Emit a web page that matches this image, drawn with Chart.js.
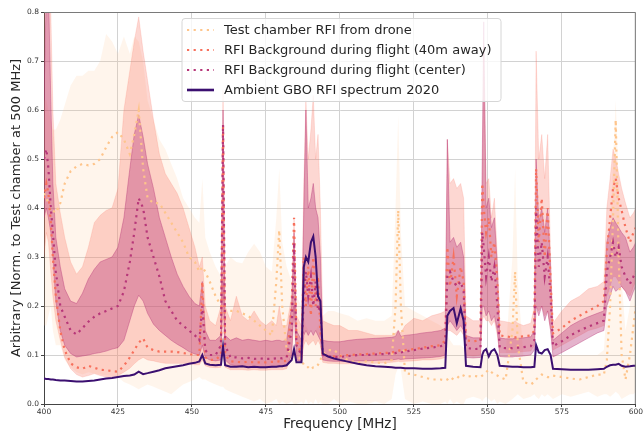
<!DOCTYPE html>
<html lang="en">
<head>
    <meta charset="UTF-8">
    <title>RFI spectra</title>
    <script src="https://cdn.jsdelivr.net/npm/chart.js"></script>
    <style>
        html, body { margin: 0; padding: 0; background: #fff; }
        #wrap { width: 644px; height: 433px; }
    </style>
</head>
<body>
    <div id="wrap">
        <canvas id="spectrum" width="644" height="433"></canvas>
    </div>

    <script>
        // frequency grid (MHz), shared by every series below
        const freq = [
            400, 400.8, 401.5, 402.3, 403, 404, 405.5, 407, 409, 411,
            413, 415, 417, 419, 421, 423, 425, 427, 429, 430.5,
            432, 433.5, 435, 437, 439, 441, 443, 445, 447, 449,
            451, 452.5, 453.5, 454.5, 456, 458, 459.8, 460.5, 461.2, 463,
            465, 467, 469, 471, 473, 475, 477, 478.5, 479.5, 480.5,
            482, 483.7, 484.5, 485.3, 487, 487.8, 488.5, 489.3, 490.2, 491,
            491.8, 492.6, 493.4, 494.2, 496, 498, 500, 503, 506, 509,
            512, 515, 517.5, 518.8, 519.7, 520.6, 522, 525, 528, 531,
            534, 535.6, 536.3, 537.2, 538.4, 539.5, 540.8, 541.8, 542.6, 545,
            547.5, 548.1, 548.6, 549.4, 550.3, 551.2, 552.2, 553.2, 554, 556,
            558.3, 559.2, 560.1, 562, 564.5, 565.7, 566.3, 567.2, 568.2, 569.2,
            570.2, 571.2, 572, 575, 578, 581, 584, 587, 589.2, 590.2,
            591.3, 592.3, 593.2, 594.2, 595.2, 596.5, 598, 599.2, 600
        ];

        // Ambient GBO RFI spectrum 2020
        const gbo = [
            0.052, 0.051, 0.051, 0.050, 0.050, 0.049, 0.048, 0.048, 0.047, 0.046,
            0.046, 0.047, 0.048, 0.050, 0.052, 0.053, 0.055, 0.057, 0.058, 0.060,
            0.066, 0.061, 0.063, 0.066, 0.069, 0.073, 0.075, 0.077, 0.079, 0.082,
            0.084, 0.087, 0.100, 0.083, 0.080, 0.079, 0.080, 0.118, 0.079, 0.076,
            0.076, 0.077, 0.075, 0.076, 0.075, 0.075, 0.076, 0.076, 0.077, 0.077,
            0.079, 0.090, 0.112, 0.085, 0.085, 0.280, 0.300, 0.290, 0.330, 0.342,
            0.300, 0.220, 0.210, 0.103, 0.097, 0.093, 0.090, 0.086, 0.082, 0.079,
            0.077, 0.076, 0.075, 0.074, 0.074, 0.074, 0.073, 0.073, 0.072, 0.072,
            0.073, 0.074, 0.180, 0.190, 0.196, 0.165, 0.195, 0.170, 0.078, 0.076,
            0.075, 0.100, 0.108, 0.112, 0.097, 0.108, 0.112, 0.100, 0.078, 0.077,
            0.076, 0.076, 0.076, 0.075, 0.075, 0.076, 0.120, 0.105, 0.103, 0.110,
            0.112, 0.100, 0.072, 0.071, 0.070, 0.070, 0.070, 0.071, 0.072, 0.076,
            0.079, 0.080, 0.080, 0.082, 0.078, 0.076, 0.077, 0.078, 0.078
        ];

        // RFI background during flight (center): median and spread
        const center = [
            0.50, 0.52, 0.48, 0.40, 0.35, 0.27, 0.20, 0.178, 0.15, 0.142,
            0.155, 0.168, 0.178, 0.185, 0.19, 0.195, 0.20, 0.23, 0.29, 0.35,
            0.42, 0.40, 0.34, 0.30, 0.26, 0.21, 0.19, 0.17, 0.16, 0.15,
            0.14, 0.13, 0.20, 0.11, 0.10, 0.10, 0.12, 0.57, 0.12, 0.095,
            0.095, 0.093, 0.094, 0.092, 0.093, 0.092, 0.092, 0.093, 0.094, 0.093,
            0.095, 0.15, 0.33, 0.12, 0.10, 0.22, 0.27, 0.22, 0.26, 0.20,
            0.25, 0.19, 0.20, 0.10, 0.097, 0.096, 0.096, 0.098, 0.10, 0.10,
            0.101, 0.102, 0.104, 0.104, 0.106, 0.105, 0.107, 0.11, 0.113, 0.115,
            0.118, 0.12, 0.26, 0.27, 0.25, 0.24, 0.25, 0.23, 0.115, 0.112,
            0.113, 0.35, 0.32, 0.26, 0.30, 0.25, 0.28, 0.20, 0.115, 0.114,
            0.114, 0.115, 0.115, 0.116, 0.118, 0.13, 0.40, 0.28, 0.33, 0.26,
            0.30, 0.22, 0.118, 0.128, 0.14, 0.15, 0.158, 0.165, 0.17, 0.27,
            0.30, 0.33, 0.30, 0.32, 0.28, 0.26, 0.245, 0.26, 0.27
        ];
        const centerHigh = [
            0.62, 0.85, 0.85, 0.62, 0.45, 0.34, 0.28, 0.235, 0.21, 0.205,
            0.226, 0.255, 0.275, 0.29, 0.295, 0.30, 0.32, 0.38, 0.48, 0.55,
            0.59, 0.545, 0.49, 0.44, 0.38, 0.34, 0.30, 0.265, 0.24, 0.22,
            0.205, 0.20, 0.25, 0.15, 0.13, 0.13, 0.14, 0.60, 0.14, 0.13,
            0.135, 0.13, 0.132, 0.13, 0.128, 0.13, 0.128, 0.13, 0.13, 0.128,
            0.13, 0.20, 0.35, 0.15, 0.13, 0.40, 0.60, 0.40, 0.42, 0.45,
            0.40, 0.38, 0.30, 0.13, 0.128, 0.127, 0.127, 0.13, 0.132, 0.133,
            0.134, 0.135, 0.136, 0.138, 0.15, 0.138, 0.14, 0.142, 0.145, 0.147,
            0.15, 0.155, 0.54, 0.33, 0.34, 0.32, 0.33, 0.30, 0.14, 0.135,
            0.135, 0.50, 0.78, 0.40, 0.42, 0.36, 0.38, 0.28, 0.135, 0.133,
            0.133, 0.134, 0.134, 0.135, 0.137, 0.15, 0.50, 0.37, 0.40, 0.35,
            0.40, 0.28, 0.13, 0.145, 0.16, 0.17, 0.178, 0.185, 0.19, 0.33,
            0.36, 0.38, 0.37, 0.36, 0.35, 0.34, 0.31, 0.32, 0.33
        ];
        const centerLow = [
            0.38, 0.40, 0.38, 0.35, 0.30, 0.21, 0.15, 0.12, 0.103, 0.096,
            0.098, 0.10, 0.103, 0.105, 0.108, 0.112, 0.115, 0.13, 0.17, 0.20,
            0.222, 0.21, 0.185, 0.163, 0.15, 0.14, 0.13, 0.122, 0.115, 0.107,
            0.102, 0.10, 0.12, 0.095, 0.09, 0.088, 0.09, 0.25, 0.09, 0.08,
            0.078, 0.077, 0.076, 0.075, 0.076, 0.075, 0.075, 0.076, 0.076, 0.077,
            0.078, 0.10, 0.20, 0.09, 0.087, 0.14, 0.15, 0.14, 0.15, 0.14,
            0.15, 0.14, 0.13, 0.09, 0.088, 0.087, 0.087, 0.087, 0.088, 0.088,
            0.089, 0.09, 0.09, 0.091, 0.092, 0.091, 0.092, 0.093, 0.094, 0.095,
            0.097, 0.10, 0.16, 0.17, 0.16, 0.15, 0.16, 0.15, 0.095, 0.094,
            0.095, 0.20, 0.20, 0.18, 0.19, 0.17, 0.18, 0.15, 0.097, 0.096,
            0.096, 0.097, 0.097, 0.098, 0.10, 0.11, 0.20, 0.18, 0.20, 0.17,
            0.19, 0.15, 0.096, 0.105, 0.115, 0.125, 0.135, 0.145, 0.15, 0.20,
            0.22, 0.24, 0.23, 0.235, 0.24, 0.23, 0.21, 0.23, 0.24
        ];

        // RFI background during flight (40m away): median and spread
        const away = [
            0.42, 0.45, 0.43, 0.37, 0.30, 0.22, 0.15, 0.11, 0.083, 0.075,
            0.072, 0.078, 0.074, 0.07, 0.069, 0.067, 0.066, 0.078, 0.095, 0.11,
            0.125, 0.134, 0.115, 0.11, 0.107, 0.107, 0.107, 0.106, 0.104, 0.102,
            0.10, 0.10, 0.25, 0.095, 0.09, 0.09, 0.10, 0.57, 0.10, 0.087,
            0.086, 0.085, 0.086, 0.085, 0.085, 0.085, 0.086, 0.086, 0.087, 0.087,
            0.088, 0.20, 0.38, 0.13, 0.10, 0.30, 0.20, 0.28, 0.18, 0.30,
            0.20, 0.26, 0.15, 0.10, 0.098, 0.097, 0.098, 0.10, 0.101, 0.102,
            0.103, 0.104, 0.105, 0.107, 0.11, 0.108, 0.11, 0.112, 0.115, 0.118,
            0.12, 0.13, 0.32, 0.24, 0.30, 0.22, 0.28, 0.25, 0.13, 0.128,
            0.13, 0.45, 0.40, 0.35, 0.38, 0.30, 0.33, 0.25, 0.14, 0.138,
            0.136, 0.136, 0.137, 0.138, 0.14, 0.15, 0.48, 0.33, 0.42, 0.30,
            0.40, 0.25, 0.144, 0.155, 0.17, 0.18, 0.19, 0.20, 0.21, 0.31,
            0.38, 0.44, 0.46, 0.42, 0.395, 0.36, 0.33, 0.35, 0.36
        ];
        const awayHigh = [
            0.82, 0.85, 0.85, 0.80, 0.60, 0.45, 0.39, 0.34, 0.29, 0.265,
            0.28, 0.32, 0.37, 0.385, 0.395, 0.40, 0.44, 0.60, 0.68, 0.74,
            0.79, 0.72, 0.66, 0.58, 0.51, 0.47, 0.45, 0.43, 0.40, 0.36,
            0.32, 0.28, 0.30, 0.20, 0.17, 0.16, 0.20, 0.64, 0.20, 0.17,
            0.22, 0.18, 0.17, 0.19, 0.17, 0.16, 0.17, 0.16, 0.20, 0.16,
            0.16, 0.22, 0.38, 0.18, 0.16, 0.45, 0.62, 0.50, 0.56, 0.63,
            0.50, 0.55, 0.40, 0.17, 0.165, 0.16, 0.16, 0.15, 0.15, 0.145,
            0.14, 0.14, 0.14, 0.145, 0.15, 0.145, 0.16, 0.175, 0.17, 0.18,
            0.185, 0.19, 0.54, 0.45, 0.46, 0.44, 0.45, 0.42, 0.18, 0.17,
            0.17, 0.45, 0.73, 0.45, 0.46, 0.38, 0.42, 0.30, 0.17, 0.168,
            0.165, 0.17, 0.165, 0.16, 0.165, 0.20, 0.72, 0.50, 0.55, 0.46,
            0.55, 0.30, 0.165, 0.19, 0.21, 0.22, 0.235, 0.24, 0.25, 0.40,
            0.46, 0.52, 0.50, 0.47, 0.44, 0.41, 0.38, 0.39, 0.40
        ];
        const awayLow = [
            0.30, 0.35, 0.33, 0.27, 0.22, 0.17, 0.13, 0.095, 0.072, 0.06,
            0.055, 0.058, 0.062, 0.058, 0.055, 0.055, 0.058, 0.065, 0.073, 0.082,
            0.09, 0.095, 0.09, 0.088, 0.085, 0.083, 0.083, 0.083, 0.083, 0.083,
            0.08, 0.08, 0.09, 0.078, 0.075, 0.074, 0.075, 0.20, 0.075, 0.07,
            0.07, 0.07, 0.069, 0.07, 0.069, 0.069, 0.07, 0.07, 0.07, 0.07,
            0.072, 0.10, 0.20, 0.09, 0.085, 0.12, 0.13, 0.12, 0.125, 0.13,
            0.12, 0.13, 0.12, 0.085, 0.083, 0.083, 0.082, 0.082, 0.083, 0.083,
            0.083, 0.084, 0.085, 0.086, 0.087, 0.086, 0.087, 0.088, 0.09, 0.09,
            0.092, 0.095, 0.15, 0.15, 0.145, 0.14, 0.15, 0.14, 0.10, 0.098,
            0.10, 0.17, 0.18, 0.17, 0.17, 0.16, 0.17, 0.14, 0.105, 0.105,
            0.105, 0.105, 0.106, 0.107, 0.108, 0.12, 0.20, 0.19, 0.20, 0.18,
            0.19, 0.15, 0.11, 0.12, 0.13, 0.14, 0.15, 0.155, 0.16, 0.22,
            0.24, 0.26, 0.26, 0.25, 0.24, 0.23, 0.22, 0.24, 0.25
        ];

        // Test chamber RFI from drone: median and spread
        const chamber = [
            0.43, 0.42, 0.41, 0.40, 0.395, 0.39, 0.41, 0.45, 0.475, 0.485,
            0.49, 0.487, 0.49, 0.50, 0.524, 0.545, 0.555, 0.54, 0.51, 0.55,
            0.60, 0.48, 0.42, 0.41, 0.41, 0.39, 0.37, 0.35, 0.33, 0.30,
            0.29, 0.27, 0.28, 0.27, 0.25, 0.22, 0.20, 0.20, 0.19, 0.19,
            0.19, 0.185, 0.18, 0.17, 0.16, 0.15, 0.14, 0.25, 0.355, 0.20,
            0.11, 0.105, 0.10, 0.10, 0.09, 0.08, 0.075, 0.075, 0.07, 0.075,
            0.075, 0.08, 0.09, 0.10, 0.11, 0.11, 0.10, 0.088, 0.085, 0.087,
            0.085, 0.083, 0.09, 0.20, 0.395, 0.20, 0.063, 0.06, 0.055, 0.05,
            0.05, 0.048, 0.05, 0.055, 0.05, 0.052, 0.06, 0.058, 0.055, 0.058,
            0.055, 0.058, 0.06, 0.065, 0.07, 0.065, 0.06, 0.058, 0.055, 0.05,
            0.15, 0.27, 0.12, 0.045, 0.04, 0.045, 0.05, 0.055, 0.06, 0.058,
            0.055, 0.055, 0.058, 0.055, 0.052, 0.05, 0.055, 0.06, 0.06, 0.09,
            0.20, 0.38, 0.58, 0.30, 0.10, 0.05, 0.10, 0.16, 0.20
        ];
        const chamberHigh = [
            0.62, 0.62, 0.60, 0.58, 0.56, 0.56, 0.58, 0.61, 0.65, 0.67,
            0.67, 0.68, 0.68, 0.70, 0.755, 0.74, 0.715, 0.75, 0.715, 0.75,
            0.74, 0.70, 0.62, 0.58, 0.54, 0.52, 0.49, 0.46, 0.42, 0.40,
            0.38, 0.37, 0.46, 0.34, 0.31, 0.28, 0.26, 0.27, 0.28, 0.30,
            0.29, 0.287, 0.31, 0.327, 0.31, 0.28, 0.27, 0.38, 0.48, 0.33,
            0.28, 0.25, 0.24, 0.22, 0.20, 0.18, 0.16, 0.15, 0.14, 0.14,
            0.15, 0.16, 0.17, 0.18, 0.19, 0.19, 0.185, 0.18, 0.17, 0.175,
            0.17, 0.17, 0.18, 0.40, 0.59, 0.35, 0.20, 0.19, 0.18, 0.17,
            0.16, 0.15, 0.14, 0.13, 0.12, 0.12, 0.12, 0.115, 0.11, 0.11,
            0.11, 0.11, 0.11, 0.11, 0.11, 0.105, 0.105, 0.104, 0.104, 0.104,
            0.30, 0.48, 0.25, 0.10, 0.10, 0.10, 0.10, 0.10, 0.10, 0.10,
            0.10, 0.10, 0.10, 0.10, 0.10, 0.10, 0.10, 0.10, 0.11, 0.20,
            0.35, 0.50, 0.62, 0.45, 0.25, 0.15, 0.20, 0.27, 0.30
        ];
        const chamberLow = [
            0.16, 0.16, 0.18, 0.20, 0.15, 0.12, 0.12, 0.09, 0.075, 0.065,
            0.06, 0.065, 0.062, 0.06, 0.058, 0.057, 0.055, 0.045, 0.04, 0.035,
            0.03, 0.035, 0.04, 0.035, 0.03, 0.025, 0.02, 0.03, 0.04, 0.045,
            0.05, 0.055, 0.05, 0.05, 0.045, 0.04, 0.035, 0.035, 0.03, 0.025,
            0.02, 0.015, 0.01, 0.005, 0.01, 0.0, 0.005, 0.01, 0.0, 0.005,
            0.0, 0.005, 0.0, 0.0, 0.005, 0.0, 0.01, 0.0, 0.005, 0.0,
            0.01, 0.0, 0.005, 0.0, 0.0, 0.01, 0.0, 0.005, 0.0, 0.0,
            0.005, 0.0, 0.01, 0.06, 0.075, 0.07, 0.01, 0.0, 0.005, 0.0,
            0.0, 0.005, 0.0, 0.01, 0.0, 0.005, 0.0, 0.0, 0.01, 0.015,
            0.01, 0.005, 0.01, 0.015, 0.01, 0.005, 0.01, 0.0, 0.005, 0.0,
            0.01, 0.015, 0.02, 0.01, 0.015, 0.02, 0.015, 0.01, 0.02, 0.015,
            0.02, 0.015, 0.01, 0.02, 0.015, 0.02, 0.025, 0.015, 0.02, 0.02,
            0.015, 0.02, 0.025, 0.02, 0.01, 0.015, 0.02, 0.02, 0.025
        ];

        const xTicks = [400, 425, 450, 475, 500, 525, 550, 575, 600];
        const yTicks = [0.0, 0.1, 0.2, 0.3, 0.4, 0.5, 0.6, 0.7, 0.8];

        const labels = [
            'Test chamber RFI from drone',
            'RFI Background during flight (40m away)',
            'RFI Background during flight (center)',
            'Ambient GBO RFI spectrum 2020'
        ];

        const C_GBO = '#3b0f70';
        const C_CENTER = '#b73779';
        const C_AWAY = '#f7705c';
        const C_CHAMBER = '#fec58c';

        const pts = arr => freq.map((f, i) => ({ x: f, y: arr[i] }));

        const dotted = (label, arr, color) => ({
            label: label,
            data: pts(arr),
            borderColor: color,
            borderWidth: 2.2,
            borderDash: [2.2, 4.4],
            pointRadius: 0,
            fill: false,
            tension: 0
        });

        const band = (arr, fillTo, fillColor, edge, edgeWidth) => ({
            label: '',
            data: pts(arr),
            borderColor: edge,
            borderWidth: edgeWidth,
            pointRadius: 0,
            backgroundColor: fillColor,
            fill: fillTo,
            tension: 0
        });

        // dataset 0 is drawn last (on top), so the solid line goes first
        const datasets = [
            {
                label: labels[3],
                data: pts(gbo),
                borderColor: C_GBO,
                borderWidth: 2,
                pointRadius: 0,
                fill: false,
                tension: 0
            },
            dotted(labels[2], center, C_CENTER),
            dotted(labels[1], away, C_AWAY),
            dotted(labels[0], chamber, C_CHAMBER),
            band(centerHigh, '+1', 'rgba(183,55,121,0.38)', 'rgba(183,55,121,0.5)', 0.8),
            band(centerLow, false, 'transparent', 'rgba(183,55,121,0.5)', 0.8),
            band(awayHigh, '+1', 'rgba(247,112,92,0.28)', 'rgba(247,112,92,0.3)', 0.6),
            band(awayLow, false, 'transparent', 'rgba(247,112,92,0.3)', 0.6),
            band(chamberHigh, '+1', 'rgba(254,197,140,0.17)', 'transparent', 0),
            band(chamberLow, false, 'transparent', 'transparent', 0)
        ];

        // full frame round the plot: top and right edges
        const frame = {
            id: 'frame',
            afterDatasetsDraw(chart) {
                const { ctx, chartArea: a } = chart;
                ctx.save();
                ctx.strokeStyle = '#7a7a7a';
                ctx.lineWidth = 1;
                ctx.beginPath();
                ctx.moveTo(a.left, a.top + 0.5);
                ctx.lineTo(a.right - 0.5, a.top + 0.5);
                ctx.lineTo(a.right - 0.5, a.bottom);
                ctx.stroke();
                ctx.restore();
            }
        };

        // boxed legend sitting inside the plot area
        const boxLegend = {
            id: 'boxLegend',
            afterDraw(chart) {
                const { ctx, chartArea: a } = chart;
                const x = a.left + 138, y = a.top + 6.5, w = 319, h = 83;
                ctx.save();
                ctx.beginPath();
                ctx.roundRect(x, y, w, h, 3);
                ctx.fillStyle = 'rgba(255,255,255,0.8)';
                ctx.fill();
                ctx.strokeStyle = '#d6d6d6';
                ctx.lineWidth = 1;
                ctx.stroke();

                const items = [
                    { text: labels[0], color: C_CHAMBER, dash: [2.2, 4.4], width: 2.2 },
                    { text: labels[1], color: C_AWAY, dash: [2.2, 4.4], width: 2.2 },
                    { text: labels[2], color: C_CENTER, dash: [2.2, 4.4], width: 2.2 },
                    { text: labels[3], color: C_GBO, dash: [], width: 2.6 }
                ];
                ctx.font = '13px "DejaVu Sans"';
                ctx.textBaseline = 'middle';
                items.forEach((it, i) => {
                    const ry = y + 11.5 + i * 20;
                    ctx.beginPath();
                    ctx.setLineDash(it.dash);
                    ctx.strokeStyle = it.color;
                    ctx.lineWidth = it.width;
                    ctx.moveTo(x + 5, ry);
                    ctx.lineTo(x + 32, ry);
                    ctx.stroke();
                    ctx.setLineDash([]);
                    ctx.fillStyle = '#262626';
                    ctx.fillText(it.text, x + 42, ry + 0.5);
                });
                ctx.restore();
            }
        };

        new Chart(document.getElementById('spectrum'), {
            type: 'line',
            data: { datasets: datasets },
            options: {
                responsive: false,
                animation: false,
                layout: { padding: { top: 12, right: 6, left: 0, bottom: 0 } },
                plugins: {
                    legend: { display: false },
                    tooltip: { enabled: false },
                    filler: { propagate: false }
                },
                scales: {
                    x: {
                        type: 'linear',
                        min: 400,
                        max: 600,
                        afterFit(scale) { scale.height = 29; },
                        afterBuildTicks(scale) { scale.ticks = xTicks.map(v => ({ value: v })); },
                        ticks: {
                            color: '#333',
                            font: { family: 'DejaVu Sans', size: 7.5 },
                            padding: 1,
                            maxRotation: 0,
                            callback: v => String(v)
                        },
                        grid: { color: '#d2d2d2', lineWidth: 1, tickLength: 3, tickColor: '#444' },
                        border: { display: true, color: '#444', width: 1 },
                        title: {
                            display: true,
                            text: 'Frequency [MHz]',
                            color: '#262626',
                            font: { family: 'DejaVu Sans', size: 13.5 },
                            padding: { top: 0, bottom: 0 }
                        }
                    },
                    y: {
                        type: 'linear',
                        min: 0,
                        max: 0.8,
                        afterFit(scale) { scale.width = 44; },
                        afterBuildTicks(scale) { scale.ticks = yTicks.map(v => ({ value: v })); },
                        ticks: {
                            color: '#333',
                            font: { family: 'DejaVu Sans', size: 7.5 },
                            padding: 2,
                            callback: v => Number(v).toFixed(1)
                        },
                        grid: { color: '#d2d2d2', lineWidth: 1, tickLength: 3, tickColor: '#444' },
                        border: { display: true, color: '#444', width: 1 },
                        title: {
                            display: true,
                            text: 'Arbitrary [Norm. to Test chamber at 500 MHz]',
                            color: '#262626',
                            font: { family: 'DejaVu Sans', size: 13 },
                            padding: { top: 9, bottom: 0 }
                        }
                    }
                }
            },
            plugins: [frame, boxLegend]
        });
    </script>
</body>
</html>
